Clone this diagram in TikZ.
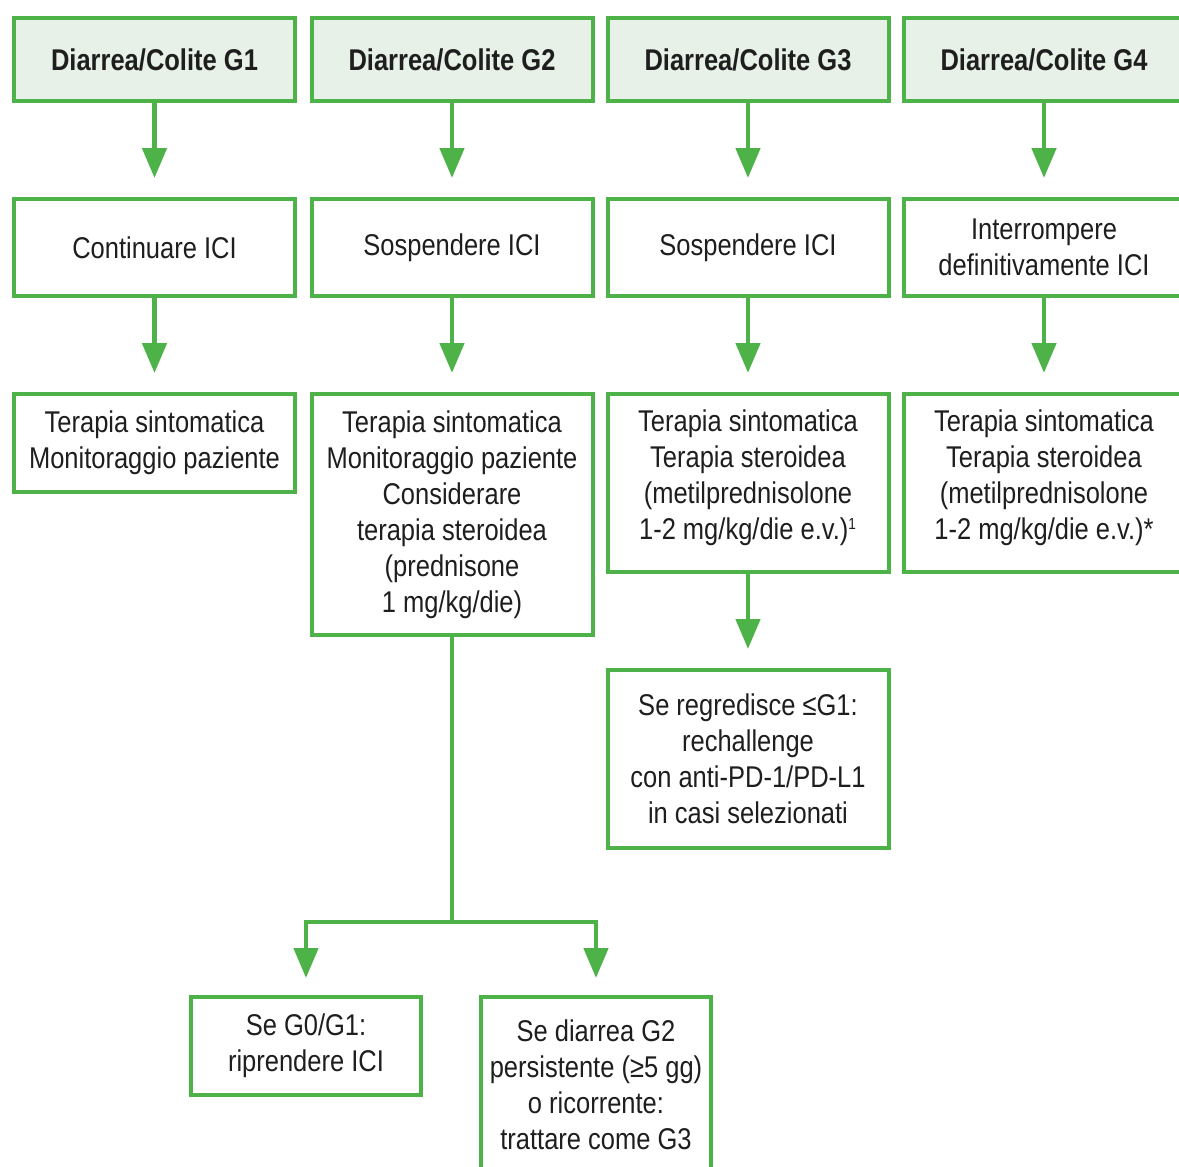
\documentclass[tikz,border=0pt]{standalone}
\usepackage{fontspec}
\setmainfont[FakeStretch=0.85]{Liberation Sans}
\usetikzlibrary{arrows.meta}
\definecolor{flowgreen}{RGB}{77,178,72}
\definecolor{headfill}{RGB}{232,241,231}
\definecolor{inktext}{RGB}{30,30,30}
\begin{document}
\begin{tikzpicture}[x=0.5pt,y=-0.5pt,
  box/.style={draw=flowgreen, line width=2pt, fill=white, inner sep=0pt,
    align=center, text=inktext, font=\fontsize{15pt}{18pt}\selectfont,
    minimum width=140.5pt},
  head/.style={box, fill=headfill, font=\fontsize{15pt}{18pt}\selectfont\bfseries,
    minimum height=41.5pt},
  act/.style={box, minimum height=48.5pt},
  flow/.style={draw=flowgreen, line width=2.4pt,
    -{Triangle[width=12pt,length=15pt]}, shorten >=9.5pt},
  link/.style={draw=flowgreen, line width=2.4pt}]
\path[use as bounding box, clip] (0,0) rectangle (1179,1167);
\fill[white] (0,0) rectangle (1179,1167);

% grade headers
\node[head] (h1) at (154.5,59.5) {Diarrea/Colite G1};
\node[head] (h2) at (452,59.5) {Diarrea/Colite G2};
\node[head] (h3) at (748,59.5) {Diarrea/Colite G3};
\node[head] (h4) at (1044,59.5) {Diarrea/Colite G4};

% ICI decision
\node[act] (a1) at (154.5,247.5) {Continuare ICI};
\node[act] (a2) at (452,247.5) {Sospendere ICI};
\node[act] (a3) at (748,247.5) {Sospendere ICI};
\node[act] (a4) at (1044,247.5) {Interrompere\\definitivamente ICI};

% therapy
\node[box, minimum height=49pt] (t1) at (154.5,443)
  {Terapia sintomatica\\Monitoraggio paziente};
\node[box, minimum height=120.5pt] (t2) at (452,514.5)
  {Terapia sintomatica\\Monitoraggio paziente\\Considerare\\terapia steroidea\\(prednisone\\1 mg/kg/die)};
\node[box, minimum height=89pt] (t3) at (748,483) {};
\node[align=center, text=inktext, font=\fontsize{15pt}{18pt}\selectfont, inner sep=0pt]
  (t3text) at (748,478)
  {Terapia sintomatica\\Terapia steroidea\\(metilprednisolone\\1-2 mg/kg/die e.v.)\textsuperscript{\fontsize{8pt}{9pt}\selectfont 1}};
\node[box, minimum height=89pt] (t4) at (1044,483) {};
\node[align=center, text=inktext, font=\fontsize{15pt}{18pt}\selectfont, inner sep=0pt]
  (t4text) at (1044,478)
  {Terapia sintomatica\\Terapia steroidea\\(metilprednisolone\\1-2 mg/kg/die e.v.)*};

% follow-up
\node[box, minimum height=89pt] (r3) at (748,759)
  {Se regredisce ≤G1:\\rechallenge\\con anti-PD-1/PD-L1\\in casi selezionati};
\node[box, minimum width=115pt, minimum height=49pt] (b1) at (306,1046)
  {Se G0/G1:\\riprendere ICI};
\node[box, minimum width=115pt, minimum height=88pt] (b2) at (596,1085)
  {Se diarrea G2\\persistente (≥5 gg)\\o ricorrente:\\trattare come G3};

% connectors
\foreach \i in {1,2,3,4} {
  \draw[flow] (h\i) -- (a\i);
  \draw[flow] (a\i) -- (t\i);
}
\draw[flow] (t3) -- (r3);
\coordinate (split) at (452,922);
\draw[link] (t2.south) -- (split);
\draw[flow, shorten >=8.5pt] (split) -| (b1.north);
\draw[flow, shorten >=8.5pt] (split) -| (b2.north);
\end{tikzpicture}
\end{document}
